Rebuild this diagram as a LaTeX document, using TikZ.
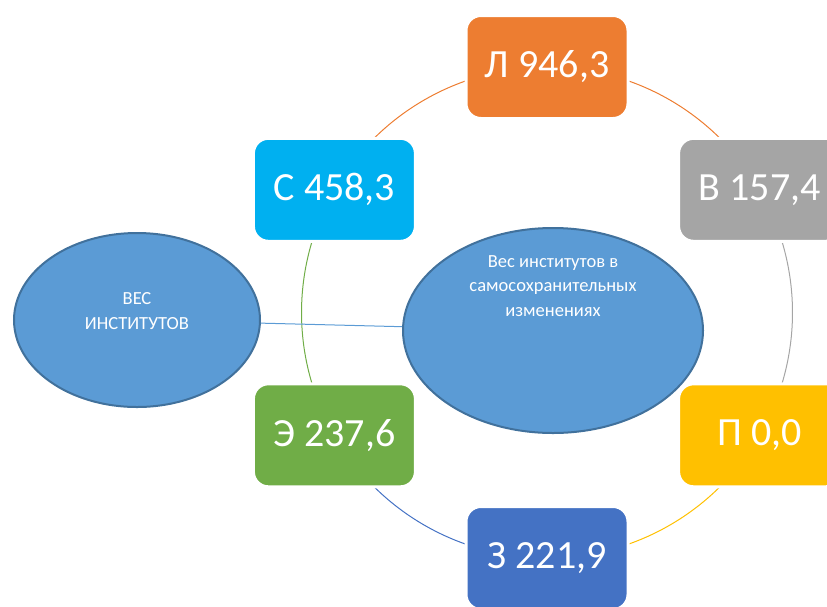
\documentclass[tikz,border=0pt]{standalone}
\usepackage{fontspec}
\setmainfont{Carlito}
\usetikzlibrary{shapes.geometric,backgrounds}

\definecolor{clrL}{HTML}{ED7D31}
\definecolor{clrC}{HTML}{00B0F0}
\definecolor{clrB}{HTML}{A5A5A5}
\definecolor{clrP}{HTML}{FFC000}
\definecolor{clrZ}{HTML}{4472C4}
\definecolor{clrE}{HTML}{70AD47}
\definecolor{vesFill}{HTML}{5B9BD5}
\definecolor{vesLine}{HTML}{41719C}

\begin{document}
\begin{tikzpicture}[x=1pt,y=-1pt,
  box/.style={rectangle, rounded corners=15pt, draw=white, line width=3pt,
    minimum width=162pt, minimum height=103pt, inner sep=0pt,
    text=white, font=\fontsize{40}{48}\selectfont},
  ves/.style={ellipse, draw=vesLine, fill=vesFill, line width=2pt, inner sep=0pt},
  vestext/.style={text=white, align=center, font=\fontsize{18.5}{24.5}\selectfont},
  ring/.style={line width=1pt}]
\useasboundingbox (0,0) rectangle (827,606);

% the two ellipses
\node[ves, minimum width=246pt, minimum height=174pt] (vesL) at (137,320) {};
\node[ves, minimum width=300pt, minimum height=205pt] (vesM) at (553,330.5) {};
\node[vestext] (vesLt) at (137,311) {ВЕС\\ИНСТИТУТОВ};
\node[vestext] (vesMt) at (553,286) {Вес институтов в\\самосохранительных\\изменениях};
\draw[vesFill, line width=1pt] (vesL) -- (vesM);

% boxes round the ring
\node[box, fill=clrL] (L) at (547,67) {Л 946,3};
\node[box, fill=clrB] (B) at (759.6,189.8) {В 157,4};
\node[box, fill=clrP] (P) at (759.6,435.3) {П 0,0};
\node[box, fill=clrZ] (Z) at (547,558) {З 221,9};
\node[box, fill=clrE] (E) at (334.4,435.3) {Э 237,6};
\node[box, fill=clrC] (C) at (334.4,189.8) {С 458,3};

% ring segments, behind the boxes
\begin{scope}[on background layer]
\draw[ring, clrL] (C.center) arc[start angle=-150, end angle=-90, radius=245.5];
\draw[ring, clrL] (L.center) arc[start angle=-90, end angle=-30, radius=245.5];
\draw[ring, clrB] (B.center) arc[start angle=-30, end angle=30, radius=245.5];
\draw[ring, clrP] (P.center) arc[start angle=30, end angle=90, radius=245.5];
\draw[ring, clrZ] (Z.center) arc[start angle=90, end angle=150, radius=245.5];
\draw[ring, clrE] (E.center) arc[start angle=150, end angle=210, radius=245.5];
\end{scope}

\end{tikzpicture}
\end{document}
